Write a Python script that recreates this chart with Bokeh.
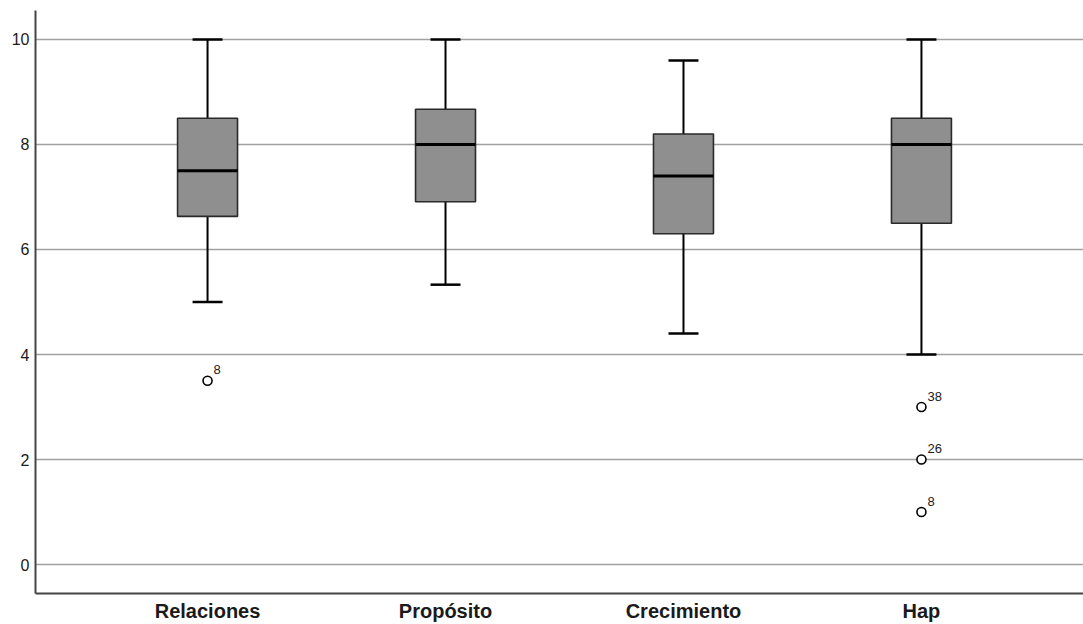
from bokeh.plotting import figure
from bokeh.models import ColumnDataSource, FixedTicker, Range1d
from bokeh.core.properties import value
from bokeh.embed import file_html
from bokeh.resources import INLINE

categories = ["Relaciones", "Propósito", "Crecimiento", "Hap"]
lower = [5.0, 5.33, 4.4, 4.0]
q1 = [6.63, 6.91, 6.30, 6.5]
median = [7.5, 8.0, 7.4, 8.0]
q3 = [8.5, 8.67, 8.2, 8.5]
upper = [10.0, 10.0, 9.6, 10.0]

outlier_cat = ["Relaciones", "Hap", "Hap", "Hap"]
outlier_val = [3.5, 3.0, 2.0, 1.0]
outlier_label = ["8", "38", "26", "8"]

y_ticks = [0, 2, 4, 6, 8, 10]

FONT = "Liberation Sans"
BOX_W = 0.252
CAP_W = 0.126

pos = list(range(1, len(categories) + 1))
src = ColumnDataSource(dict(
    x=pos, lower=lower, q1=q1, median=median, q3=q3, upper=upper,
    bl=[p - BOX_W / 2 for p in pos], br=[p + BOX_W / 2 for p in pos],
    cl=[p - CAP_W / 2 for p in pos], cr=[p + CAP_W / 2 for p in pos],
))
ox = [categories.index(c) + 1 for c in outlier_cat]
osrc = ColumnDataSource(dict(x=ox, y=outlier_val, t=outlier_label))

p = figure(width=1083, height=624, output_backend="svg", toolbar_location=None,
           x_range=Range1d(0.277, 4.681), y_range=Range1d(-0.552, 10.552),
           min_border_left=35, min_border_right=0, min_border_top=10, min_border_bottom=31)
p.outline_line_color = None
p.background_fill_color = "white"
p.border_fill_color = "white"

# grid
p.xgrid.grid_line_color = None
p.ygrid.grid_line_color = "#a0a0a0"
p.ygrid.grid_line_width = 1.6
p.yaxis.ticker = FixedTicker(ticks=y_ticks)
p.xaxis.ticker = FixedTicker(ticks=pos)
p.xaxis.major_label_overrides = {i: c for i, c in zip(pos, categories)}

for ax in (p.xaxis[0], p.yaxis[0]):
    ax.axis_line_color = "#444444"
    ax.axis_line_width = 2
    ax.major_tick_line_color = None
    ax.minor_tick_line_color = None
    ax.major_tick_out = 0
    ax.major_tick_in = 0
    ax.minor_tick_out = 0
    ax.minor_tick_in = 0
    ax.major_label_text_font = FONT
    ax.major_label_text_color = "#1a1a1a"
p.yaxis.major_label_text_font_size = "16px"
p.yaxis.major_label_standoff = 6
p.xaxis.major_label_text_font_size = "20px"
p.xaxis.major_label_text_font_style = "bold"
p.xaxis.major_label_standoff = 6

# whiskers
p.segment(x0="x", y0="q3", x1="x", y1="upper", source=src, line_color="black", line_width=2)
p.segment(x0="x", y0="q1", x1="x", y1="lower", source=src, line_color="black", line_width=2)
p.segment(x0="cl", y0="upper", x1="cr", y1="upper", source=src, line_color="black", line_width=2.5)
p.segment(x0="cl", y0="lower", x1="cr", y1="lower", source=src, line_color="black", line_width=2.5)
# boxes
p.vbar(x="x", width=BOX_W, bottom="q1", top="q3", source=src,
       fill_color="#8f8f8f", line_color="#2a2a2a", line_width=1.6)
# medians
p.segment(x0="bl", y0="median", x1="br", y1="median", source=src, line_color="black", line_width=3)

# outliers
p.scatter(x="x", y="y", source=osrc, size=9, marker="circle",
          fill_color="white", line_color="black", line_width=1.6)
p.text(x="x", y="y", text="t", source=osrc, x_offset=6, y_offset=-11,
       text_font=value(FONT), text_font_size="13px", text_color="#1a1a1a",
       text_baseline="alphabetic", text_align="left")

open("out.html", "w").write(file_html(p, INLINE))
